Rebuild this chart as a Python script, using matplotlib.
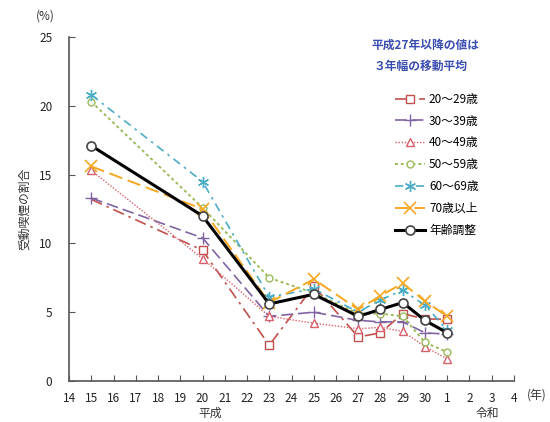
import matplotlib
matplotlib.use("Agg")
import matplotlib.pyplot as plt

plt.rcParams['font.family'] = ['Noto Sans CJK JP', 'DejaVu Sans']

# Heisei years; Reiwa 1 = Heisei 31
years = [15, 20, 23, 25, 27, 28, 29, 30, 31]
tick_pos = list(range(14, 35))
tick_labels = [str(v) for v in range(14, 31)] + ['1', '2', '3', '4']

s20 = [13.2, 9.5, 2.6, 6.9, 3.2, 3.5, 4.9, 4.5, 4.5]
s30 = [13.3, 10.4, 4.7, 5.0, 4.4, 4.3, 4.3, 3.5, 3.4]
s40 = [15.3, 8.9, 4.7, 4.2, 3.8, 3.9, 3.6, 2.5, 1.6]
s50 = [20.3, 12.6, 7.5, 6.4, 4.9, 4.9, 4.7, 2.8, 2.1]
s60 = [20.8, 14.5, 6.1, 6.7, 5.0, 5.9, 6.6, 5.5, 3.7]
s70 = [15.6, 12.5, 5.7, 7.4, 5.2, 6.2, 7.1, 5.8, 4.7]
adj = [17.1, 12.0, 5.6, 6.3, 4.7, 5.2, 5.7, 4.4, 3.5]

labels = ['20～29歳', '30～39歳', '40～49歳', '50～59歳', '60～69歳', '70歳以上', '年齢調整']

fig = plt.figure(figsize=(5.5, 4.22), dpi=100)
ax = fig.add_axes([0.1255, 0.0972, 0.809, 0.815])

styles = [
    dict(color='#C0504D', ls=(0, (7, 3, 1.5, 3)), marker='s', ms=6, mfc='white', lw=1.2,
         markevery=list(range(1, 9))),
    dict(color='#8064A2', ls=(0, (7, 3)), marker='+', ms=8, lw=1.2),
    dict(color='#D9606A', ls=(0, (1, 1.2)), marker='^', ms=6, mfc='white', lw=1.0),
    dict(color='#9BBB59', ls=(0, (1.5, 1.5)), marker='o', ms=5, mfc='white', lw=1.4),
    dict(color='#4BACC6', ls=(0, (5, 3, 1.5, 3)), marker=(6, 2, 0), ms=8, lw=1.2),
    dict(color='#F7A823', ls=(0, (7, 3)), marker='x', ms=8, lw=1.4, mew=1.2),
    dict(color='black', ls='-', marker='o', ms=6.5, mfc='white', lw=2.2, mec='#444444', mew=1.2),
]
series = [s20, s30, s40, s50, s60, s70, adj]
for s, st, lab in zip(series, styles, labels):
    ax.plot(years, s, label=lab, **st)

ax.set_xlim(14, 34)
ax.set_ylim(0, 25)
ax.set_xticks(tick_pos)
ax.set_xticklabels(tick_labels)
ax.set_yticks([0, 5, 10, 15, 20, 25])
for sp in ['top', 'right']:
    ax.spines[sp].set_visible(False)
for sp in ['left', 'bottom']:
    ax.spines[sp].set_color('#555555')
    ax.spines[sp].set_linewidth(1.2)
ax.tick_params(direction='in', length=4, color='#555555', labelsize=8.5, labelcolor='#222222')
ax.tick_params(axis='x', pad=8)
ax.tick_params(axis='y', pad=12)

ax.set_ylabel('受動喫煙の割合', fontsize=8.5, color='#333333', labelpad=6)
fig.text(45 / 550, 1 - 16 / 422, '(%)', fontsize=8.5, ha='center', va='center', color='#333333')
fig.text(537 / 550, 1 - 395 / 422, '(年)', fontsize=8.5, ha='center', va='center', color='#333333')
fig.text(210 / 550, 1 - 413 / 422, '平成', fontsize=8.5, ha='center', va='center', color='#333333')
fig.text(487 / 550, 1 - 413 / 422, '令和', fontsize=8.5, ha='center', va='center', color='#333333')

fig.text(372 / 550, 1 - 45 / 422, '平成27年以降の値は', fontsize=8.5, ha='left', va='center',
         color='#3A4DB0', fontweight='bold')
fig.text(374 / 550, 1 - 66 / 422, '３年幅の移動平均', fontsize=8.5, ha='left', va='center',
         color='#3A4DB0', fontweight='bold')

leg = ax.legend(loc='upper left', bbox_to_anchor=(390 / 550, 1 - 88 / 422), bbox_transform=fig.transFigure,
                frameon=False, fontsize=8.5, handlelength=2.6, labelspacing=0.75, handletextpad=0.3,
                borderaxespad=0)

fig.savefig('out.png', dpi=100)
